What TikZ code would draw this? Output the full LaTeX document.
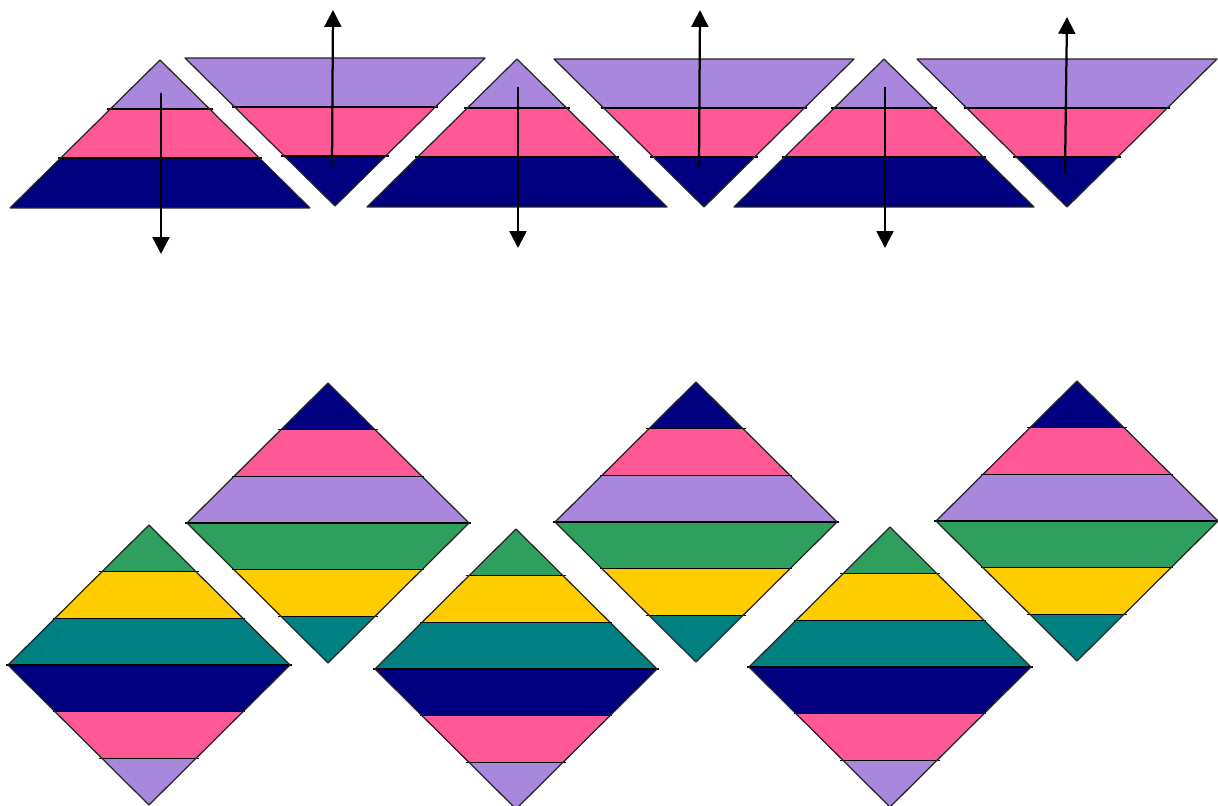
\documentclass[tikz,border=0pt]{standalone}
\usepackage{tikz}
\usetikzlibrary{arrows.meta}
\definecolor{lilac}{HTML}{A987DC}
\definecolor{rose}{HTML}{FF5896}
\definecolor{navy}{HTML}{000080}
\definecolor{leaf}{HTML}{2E9F5C}
\definecolor{sun}{HTML}{FFCC00}
\definecolor{tealc}{HTML}{008080}
\tikzset{
  >={Triangle[length=4.2mm,width=4.2mm]},
  edge/.style={draw=black!85, line width=0.9pt, line join=round},
  band/.style={draw=black, line width=1pt},
  lift/.style={->, line width=1.6pt}
}
% up triangle: apex x, apex y (pixels, y downwards)
\newcommand{\uptri}[2]{%
  \begin{scope}
    \clip (#1,#2) -- ++(-150,148) -- ++(300,0) -- cycle;
    \foreach \c [count=\i from 0] in {lilac,rose,navy}
      \fill[\c] ({#1-160},{#2+49*\i}) rectangle ({#1+160},{#2+49*\i+50});
  \end{scope}
  \foreach \d in {49,98}
    \draw[band] ({#1-\d*1.014-3},{#2+\d}) -- ({#1+\d*1.014+3},{#2+\d});
  \draw[edge] (#1,#2) -- ++(-150,148) -- ++(300,0) -- cycle;
}
% down triangle: centre x, top y
\newcommand{\dntri}[2]{%
  \begin{scope}
    \clip ({#1-150},#2) -- ({#1+150},#2) -- (#1,{#2+148}) -- cycle;
    \foreach \c [count=\i from 0] in {lilac,rose,navy}
      \fill[\c] ({#1-160},{#2+49*\i}) rectangle ({#1+160},{#2+49*\i+50});
  \end{scope}
  \foreach \d in {49,98}
    \draw[band] ({#1-150+\d*1.014-3},{#2+\d}) -- ({#1+150-\d*1.014+3},{#2+\d});
  \draw[edge] ({#1-150},#2) -- ({#1+150},#2) -- (#1,{#2+148}) -- cycle;
}
% diamond: centre x, centre y, six colours top to bottom
\newcommand{\stripediamond}[3]{%
  \begin{scope}
    \clip (#1,{#2-140}) -- ({#1+141},#2) -- (#1,{#2+140}) -- ({#1-141},#2) -- cycle;
    \foreach \c [count=\i from 0] in {#3}
      \fill[\c] ({#1-150},{#2-140+46.67*\i}) rectangle ({#1+150},{#2-140+46.67*\i+47.5});
  \end{scope}
  \foreach \d in {-93.33,-46.67,0,46.67,93.33}
    \draw[band] ({#1-141+abs(\d)-2},{#2+\d}) -- ({#1+141-abs(\d)+2},{#2+\d});
  \draw[edge] (#1,{#2-140}) -- ({#1+141},#2) -- (#1,{#2+140}) -- ({#1-141},#2) -- cycle;
}

\begin{document}
\begin{tikzpicture}[x=0.025cm,y=-0.025cm]
  \clip (0,0) rectangle (1218,805);

  % top row
  \uptri{160}{60}
  \dntri{335}{58}
  \uptri{517}{59}
  \dntri{704}{59}
  \uptri{884}{59}
  \dntri{1067}{59}

  % arrows
  \draw[lift] (161,93) -- (161,254);
  \draw[lift] (332,166) -- (333,10);
  \draw[lift] (518,87) -- (518,248);
  \draw[lift] (699,166) -- (700,10);
  \draw[lift] (885,87) -- (885,248);
  \draw[lift] (1065,173) -- (1067,17);

  % bottom row
  \stripediamond{328}{523}{navy,rose,lilac,leaf,sun,tealc}
  \stripediamond{696}{522}{navy,rose,lilac,leaf,sun,tealc}
  \stripediamond{1077}{521}{navy,rose,lilac,leaf,sun,tealc}
  \stripediamond{149}{665}{leaf,sun,tealc,navy,rose,lilac}
  \stripediamond{516}{669}{leaf,sun,tealc,navy,rose,lilac}
  \stripediamond{890}{667}{leaf,sun,tealc,navy,rose,lilac}
\end{tikzpicture}
\end{document}
